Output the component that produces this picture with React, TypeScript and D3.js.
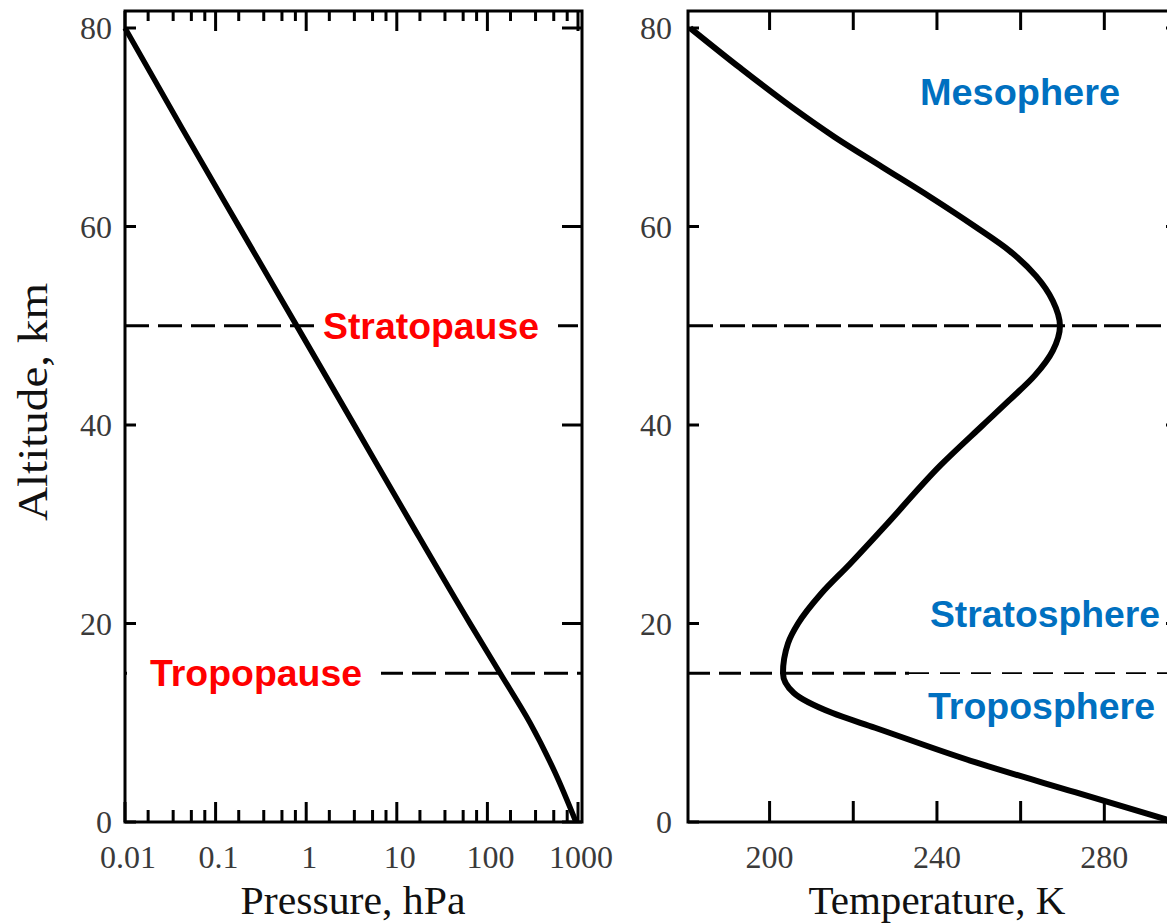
import React from 'react';
import * as d3 from 'd3';

// ---------- data ----------
const altitudeTicks = [0, 20, 40, 60, 80];
const pressureMajorTicks = [0.01, 0.1, 1, 10, 100, 1000];
const pressureTickLabels = ['0.01', '0.1', '1', '10', '100', '1000'];
const pressureMinorMultipliers = [1.8, 3.4, 5.4, 7.6];
const temperatureTicks = [200, 220, 240, 260, 280];
const temperatureTickLabels = [200, 240, 280];

// pressure profile (altitude km -> hPa)
const pressureAltitudes = [0, 5, 10, 15, 20, 30, 40, 50, 60, 70, 80];
const pressureValues = [950, 557, 295, 138, 64.3, 14.6, 3.39, 0.785, 0.181, 0.042, 0.01];

// temperature profile (altitude km -> K)
const temperatureAltitudes = [0, 3, 6, 9.5, 11, 13, 15, 18, 20, 23, 26, 30, 36, 40, 42.5, 45, 47.5, 50, 52.5, 55, 57.5, 60, 63, 66, 69, 72, 76, 80];
const temperatureValues = [296.9, 273.0, 249.3, 225.2, 214.9, 205.8, 203.2, 204.4, 206.8, 212.3, 219.2, 228.0, 241.0, 251.0, 257.3, 263.4, 267.7, 269.4, 267.7, 263.7, 257.5, 249.1, 238.3, 226.9, 215.6, 205.4, 192.9, 181.0];

const tropopauseAltitude = 15;
const stratopauseAltitude = 50;

// ---------- layout ----------
const W = 1167;
const H = 924;
const FRAME_TOP = 11;
const LEFT_X0 = 125;
const LEFT_X1 = 582;
const RIGHT_X0 = 688;
const RIGHT_X1 = 1188;

const altScale = d3.scaleLinear().domain([0, 80]).range([822, 28]);
const pScale = d3.scaleLog().domain([0.01, 1000]).range([125, 578]);
const tScale = d3.scaleLinear().domain([180.5, 300]).range([RIGHT_X0, RIGHT_X1]);

const BOTTOM = altScale(0);
const serif = "'Liberation Serif', 'Times New Roman', serif";
const sans = "'Liberation Sans', Arial, sans-serif";
const RED = '#ff0000';
const BLUE = '#0070c0';
const TICK_COLOR = '#3a3a3a';

export default function App() {
  const byY = (a: [number, number], b: [number, number]) => a[1] - b[1];
  const pressurePts: [number, number][] = pressureAltitudes
    .map((a, i) => [pScale(pressureValues[i]), altScale(a)] as [number, number])
    .sort(byY);
  const tempPts: [number, number][] = temperatureAltitudes
    .map((a, i) => [tScale(temperatureValues[i]), altScale(a)] as [number, number])
    .sort(byY);
  const line = d3.line().curve(d3.curveMonotoneY);

  const minorTicks: number[] = [];
  pressureMajorTicks.slice(0, -1).forEach((d) => pressureMinorMultipliers.forEach((m) => minorTicks.push(d * m)));

  const yStrato = altScale(stratopauseAltitude);
  const yTropo = altScale(tropopauseAltitude);

  const label = (text: string, x: number, y: number, len: number, color: string) => (
    <text x={x} y={y} fill={color} fontFamily={sans} fontWeight="bold" fontSize={36} textLength={len} lengthAdjust="spacingAndGlyphs">{text}</text>
  );

  return (
    <svg width={W} height={H} style={{ position: 'absolute', left: 0, top: 0, background: '#fff' }}>
      <rect x={0} y={0} width={W} height={H} fill="#fff" />

      {/* ================= LEFT PANEL ================= */}
      <line x1={LEFT_X0} x2={LEFT_X1} y1={yStrato} y2={yStrato} stroke="#000" strokeWidth={3} strokeDasharray="24 9" />
      <line x1={LEFT_X0} x2={LEFT_X1} y1={yTropo} y2={yTropo} stroke="#000" strokeWidth={3} strokeDasharray="24 9" strokeDashoffset={10} />
      <rect x={316} y={yStrato - 20} width={242} height={40} fill="#fff" />
      <rect x={LEFT_X0 + 2} y={yTropo - 20} width={254} height={40} fill="#fff" />

      <path d={line(pressurePts) || ''} fill="none" stroke="#000" strokeWidth={5.5} strokeLinejoin="round" />

      <rect x={LEFT_X0} y={FRAME_TOP} width={LEFT_X1 - LEFT_X0} height={BOTTOM - FRAME_TOP} fill="none" stroke="#000" strokeWidth={3} />
      {altitudeTicks.map((a) => (
        <g key={'ly' + a}>
          <line x1={LEFT_X0} x2={LEFT_X0 + 11} y1={altScale(a)} y2={altScale(a)} stroke="#000" strokeWidth={3} />
          <line x1={LEFT_X1 - 20} x2={LEFT_X1} y1={altScale(a)} y2={altScale(a)} stroke="#000" strokeWidth={3} />
          <text x={112} y={altScale(a)} dy="0.35em" textAnchor="end" fontFamily={serif} fontSize={32} fill={TICK_COLOR}>{a}</text>
        </g>
      ))}
      {pressureMajorTicks.map((p, i) => (
        <g key={'px' + p}>
          <line x1={pScale(p)} x2={pScale(p)} y1={BOTTOM} y2={BOTTOM - 20} stroke="#000" strokeWidth={3} />
          <line x1={pScale(p)} x2={pScale(p)} y1={FRAME_TOP} y2={FRAME_TOP + 20} stroke="#000" strokeWidth={3} />
          <text x={pScale(p) + 3} y={868} textAnchor="middle" fontFamily={serif} fontSize={32} fill={TICK_COLOR}>{pressureTickLabels[i]}</text>
        </g>
      ))}
      {minorTicks.map((p, i) => (
        <g key={'pm' + i}>
          <line x1={pScale(p)} x2={pScale(p)} y1={BOTTOM} y2={BOTTOM - 12} stroke="#000" strokeWidth={3} />
          <line x1={pScale(p)} x2={pScale(p)} y1={FRAME_TOP} y2={FRAME_TOP + 10} stroke="#000" strokeWidth={3} />
        </g>
      ))}

      {label('Stratopause', 323, yStrato + 13, 216, RED)}
      {label('Tropopause', 150, yTropo + 13, 212, RED)}

      <text x={353} y={914} textAnchor="middle" fontFamily={serif} fontSize={40} fill="#111" textLength={225} lengthAdjust="spacingAndGlyphs">Pressure, hPa</text>
      <text transform="translate(47, 402) rotate(-90)" textAnchor="middle" fontFamily={serif} fontSize={43} fill="#111" textLength={238} lengthAdjust="spacingAndGlyphs">Altitude, km</text>

      {/* ================= RIGHT PANEL ================= */}
      <line x1={RIGHT_X0} x2={RIGHT_X1} y1={yStrato} y2={yStrato} stroke="#000" strokeWidth={3} strokeDasharray="25 7" />
      <line x1={RIGHT_X0} x2={909} y1={yTropo} y2={yTropo} stroke="#000" strokeWidth={3} strokeDasharray="22 9" />
      <line x1={909} x2={RIGHT_X1} y1={yTropo} y2={yTropo} stroke="#000" strokeWidth={1.8} strokeDasharray="20 11" />

      <path d={line(tempPts) || ''} fill="none" stroke="#000" strokeWidth={6} strokeLinejoin="round" />

      <rect x={RIGHT_X0} y={FRAME_TOP} width={RIGHT_X1 - RIGHT_X0} height={BOTTOM - FRAME_TOP} fill="none" stroke="#000" strokeWidth={3} />
      {altitudeTicks.map((a) => (
        <g key={'ry' + a}>
          <line x1={RIGHT_X0} x2={RIGHT_X0 + 11} y1={altScale(a)} y2={altScale(a)} stroke="#000" strokeWidth={3} />
          <line x1={RIGHT_X1 - 22} x2={RIGHT_X1} y1={altScale(a)} y2={altScale(a)} stroke="#000" strokeWidth={3} />
          <text x={672} y={altScale(a)} dy="0.35em" textAnchor="end" fontFamily={serif} fontSize={32} fill={TICK_COLOR}>{a}</text>
        </g>
      ))}
      {temperatureTicks.map((t) => (
        <g key={'tx' + t}>
          <line x1={tScale(t)} x2={tScale(t)} y1={BOTTOM} y2={BOTTOM - 21} stroke="#000" strokeWidth={3} />
          <line x1={tScale(t)} x2={tScale(t)} y1={FRAME_TOP} y2={FRAME_TOP + 19} stroke="#000" strokeWidth={3} />
        </g>
      ))}
      {temperatureTickLabels.map((t) => (
        <text key={'tl' + t} x={tScale(t)} y={868} textAnchor="middle" fontFamily={serif} fontSize={32} fill={TICK_COLOR}>{t}</text>
      ))}

      {label('Mesophere', 920, 105, 200, BLUE)}
      {label('Stratosphere', 930, 627, 230, BLUE)}
      {label('Troposphere', 928, 719, 227, BLUE)}

      <text x={937} y={914} textAnchor="middle" fontFamily={serif} fontSize={40} fill="#111" textLength={257} lengthAdjust="spacingAndGlyphs">Temperature, K</text>
    </svg>
  );
}
